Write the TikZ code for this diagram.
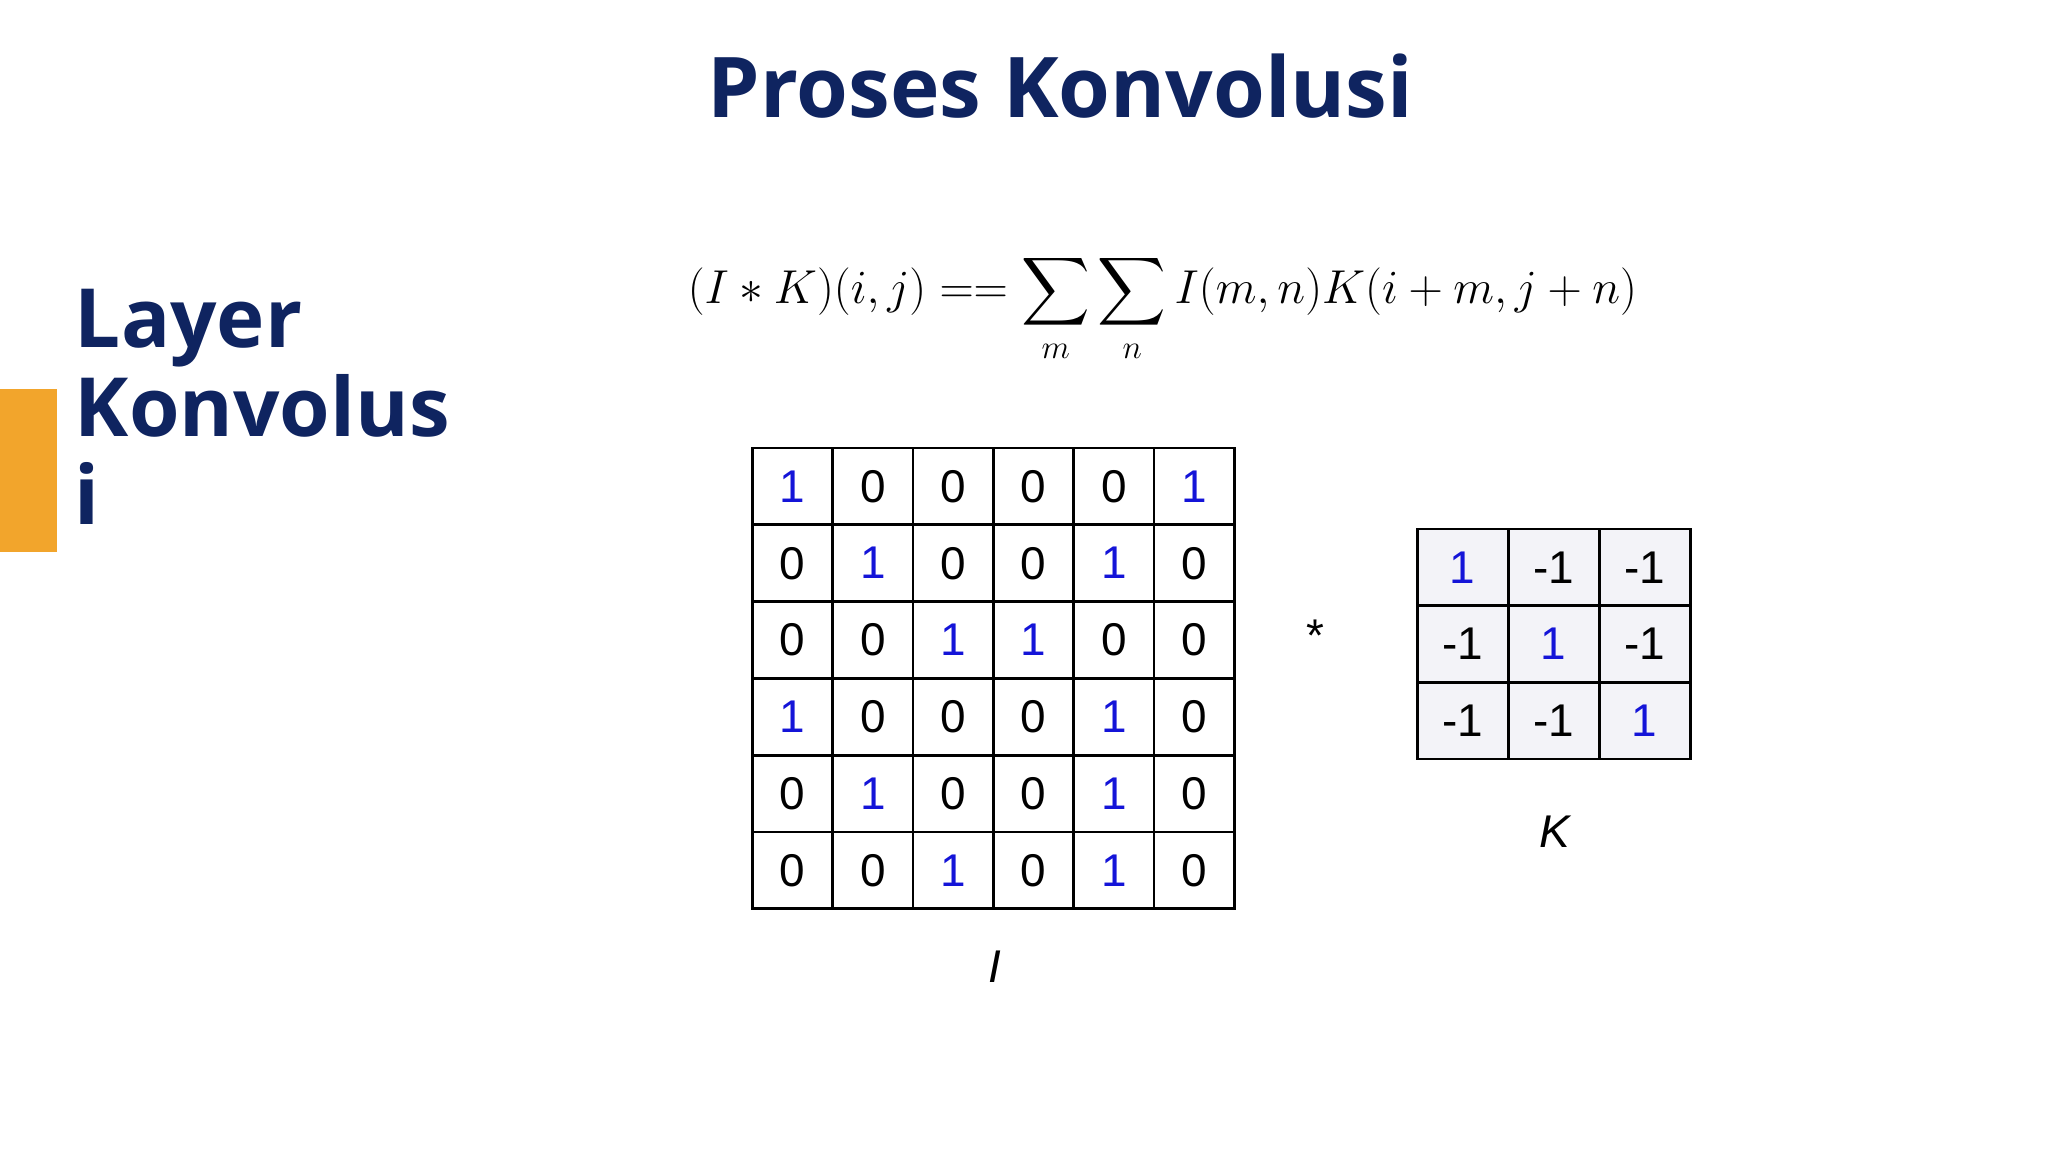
\documentclass[tikz,border=0pt]{standalone}
\usepackage{fontspec}
\usepackage{amsmath}
\setmainfont{Liberation Sans}
\newfontfamily\titlefont{Open Sans}
\definecolor{navy}{HTML}{0F2460}
\definecolor{orangebar}{HTML}{F2A52C}
\definecolor{oneblue}{HTML}{1414D8}
\definecolor{kfill}{HTML}{F3F3F8}
\tikzset{
  cellI/.style={draw=black, line width=1.2pt, minimum width=61.5*0.02cm, minimum height=58.8*0.02cm, inner sep=0pt, font=\fontsize{20}{22}\selectfont},
  cellK/.style={draw=black, line width=1.2pt, fill=kfill, minimum width=69.7*0.02cm, minimum height=58.7*0.02cm, inner sep=0pt, font=\fontsize{20}{22}\selectfont},
  one/.style={text=oneblue},
  heading/.style={font=\titlefont\bfseries\fontsize{40}{44}\selectfont, text=navy}
}
\begin{document}
\begin{tikzpicture}[x=0.02cm,y=-0.02cm]
\useasboundingbox (0,0) rectangle (1568,882);
\fill[orangebar] (0,298) rectangle (44,423);
\node[heading, font=\titlefont\bfseries\fontsize{36.5}{40}\selectfont] (title) at (812,66) {Proses Konvolusi};
\node[heading, anchor=north west, align=left, inner sep=0pt, font=\titlefont\bfseries\fontsize{35.6}{38.6}\selectfont] (layer) at (57,221) {Layer\\Konvolus\\i};
\node (formula) at (890,236) {\fontsize{20.9}{25}\selectfont$\displaystyle (I*K)(i,j) == \sum_m\sum_n I(m,n)K(i+m,j+n)$};
% Grid I
\foreach \row [count=\r from 0] in {{1,0,0,0,0,1},{0,1,0,0,1,0},{0,0,1,1,0,0},{1,0,0,0,1,0},{0,1,0,0,1,0},{0,0,1,0,1,0}}{
  \foreach \v [count=\c from 0] in \row {
    \ifnum\v=1
      \node[cellI, one] (i-\r-\c) at ({576+61.5*(\c+0.5)},{343+58.8*(\r+0.5)}) {\v};
    \else
      \node[cellI] (i-\r-\c) at ({576+61.5*(\c+0.5)},{343+58.8*(\r+0.5)}) {\v};
    \fi
  }
}
\node[font=\fontsize{20}{22}\selectfont] (star) at (1007,487) {*};
% Grid K
\foreach \row [count=\r from 0] in {{1,-1,-1},{-1,1,-1},{-1,-1,1}}{
  \foreach \v [count=\c from 0] in \row {
    \ifnum\v=1
      \node[cellK, one] (k-\r-\c) at ({1085+69.7*(\c+0.5)},{405+58.7*(\r+0.5)}) {\v};
    \else
      \node[cellK] (k-\r-\c) at ({1085+69.7*(\c+0.5)},{405+58.7*(\r+0.5)}) {\v};
    \fi
  }
}
\node[font=\itshape\fontsize{20}{22}\selectfont] (klab) at (1190,637) {K};
\node[font=\itshape\fontsize{20}{22}\selectfont] (ilab) at (762,740) {I};
\end{tikzpicture}
\end{document}
